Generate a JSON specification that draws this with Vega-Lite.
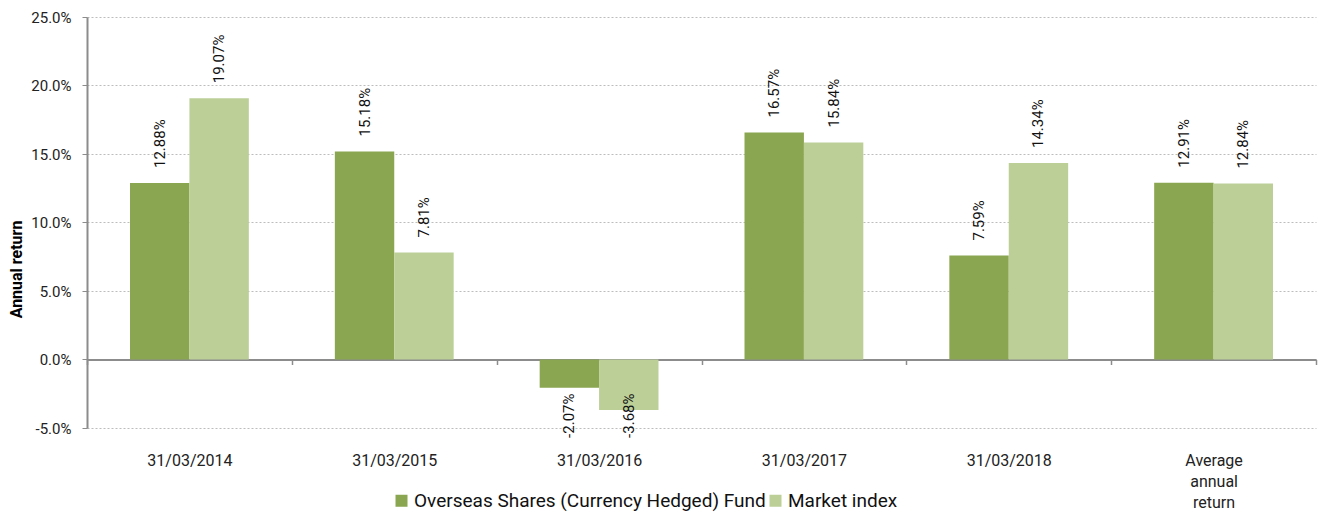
{
  "$schema": "https://vega.github.io/schema/vega-lite/v6.json",
  "autosize": {"type": "none"},
  "padding": {"left": 87, "top": 17, "right": 3, "bottom": 86},
  "width": 1229,
  "height": 411,
  "config": {
    "font": "Roboto",
    "view": {"stroke": null},
    "axis": {"labelColor": "#222222", "titleColor": "#000000"}
  },
  "data": {
    "values": [
      {"period": "31/03/2014", "series": "Overseas Shares (Currency Hedged) Fund", "value": 0.1288},
      {"period": "31/03/2014", "series": "Market index", "value": 0.1907},
      {"period": "31/03/2015", "series": "Overseas Shares (Currency Hedged) Fund", "value": 0.1518},
      {"period": "31/03/2015", "series": "Market index", "value": 0.0781},
      {"period": "31/03/2016", "series": "Overseas Shares (Currency Hedged) Fund", "value": -0.0207},
      {"period": "31/03/2016", "series": "Market index", "value": -0.0368},
      {"period": "31/03/2017", "series": "Overseas Shares (Currency Hedged) Fund", "value": 0.1657},
      {"period": "31/03/2017", "series": "Market index", "value": 0.1584},
      {"period": "31/03/2018", "series": "Overseas Shares (Currency Hedged) Fund", "value": 0.0759},
      {"period": "31/03/2018", "series": "Market index", "value": 0.1434},
      {"period": "Average annual return", "series": "Overseas Shares (Currency Hedged) Fund", "value": 0.1291},
      {"period": "Average annual return", "series": "Market index", "value": 0.1284}
    ]
  },
  "transform": [
    {"calculate": "replace(format(datum.value, '.2%'), '\u2212', '-')", "as": "label"}
  ],
  "encoding": {
    "x": {
      "field": "period",
      "type": "nominal",
      "sort": null,
      "scale": {"paddingInner": 0, "paddingOuter": 0},
      "axis": {
        "title": null,
        "labelAngle": 0,
        "labelFontSize": 16,
        "labelBaseline": "top",
        "labelLineHeight": 21,
        "labelPadding": 88,
        "labelExpr": "datum.value == 'Average annual return' ? ['Average', 'annual', 'return'] : datum.value",
        "offset": -68.5,
        "domainColor": "#8c8c8c",
        "domainWidth": 2,
        "tickBand": "extent",
        "tickColor": "#8c8c8c",
        "tickWidth": 1.5,
        "tickSize": 5,
        "grid": false
      }
    },
    "xOffset": {
      "field": "series",
      "type": "nominal",
      "sort": ["Overseas Shares (Currency Hedged) Fund", "Market index"],
      "scale": {"paddingInner": 0, "paddingOuter": 0.724}
    },
    "y": {
      "field": "value",
      "type": "quantitative",
      "scale": {"domain": [-0.05, 0.25], "nice": false, "zero": false},
      "axis": {
        "title": "Annual return",
        "titleFontSize": 16,
        "titleFontWeight": "bold",
        "titlePadding": 6,
        "titleY": 252,
        "labelExpr": "replace(format(datum.value, '.1%'), '\u2212', '-')",
        "values": [-0.05, 0, 0.05, 0.1, 0.15, 0.2, 0.25],
        "labelFontSize": 15,
        "labelPadding": 11,
        "tickSize": 5,
        "tickColor": "#8c8c8c",
        "domainColor": "#8c8c8c",
        "domainWidth": 2,
        "gridColor": "#bdbdbd",
        "gridDash": [2, 2],
        "gridWidth": 1
      }
    }
  },
  "layer": [
    {
      "mark": {"type": "bar"},
      "encoding": {
        "color": {
          "field": "series",
          "type": "nominal",
          "scale": {
            "domain": ["Overseas Shares (Currency Hedged) Fund", "Market index"],
            "range": ["#8AA650", "#BBCF97"]
          },
          "legend": {
            "title": null,
            "orient": "none",
            "legendX": 305,
            "legendY": 474,
            "direction": "horizontal",
            "columns": 2,
            "gridAlign": "all",
            "columnPadding": 0,
            "symbolType": "square",
            "symbolSize": 144,
            "symbolStrokeWidth": 0,
            "labelFontSize": 19,
            "labelColor": "#111111",
            "labelOffset": 3,
            "labelLimit": 500
          }
        }
      }
    },
    {
      "transform": [{"filter": "datum.value >= 0"}],
      "mark": {"type": "text", "angle": 270, "align": "left", "baseline": "middle", "dx": 15, "fontSize": 15, "color": "#111111"},
      "encoding": {"text": {"field": "label", "type": "nominal"}}
    },
    {
      "transform": [{"filter": "datum.value < 0"}],
      "mark": {"type": "text", "angle": 270, "align": "right", "baseline": "middle", "dx": -34, "fontSize": 15, "color": "#111111"},
      "encoding": {
        "y": {"datum": 0},
        "text": {"field": "label", "type": "nominal"}
      }
    }
  ]
}
